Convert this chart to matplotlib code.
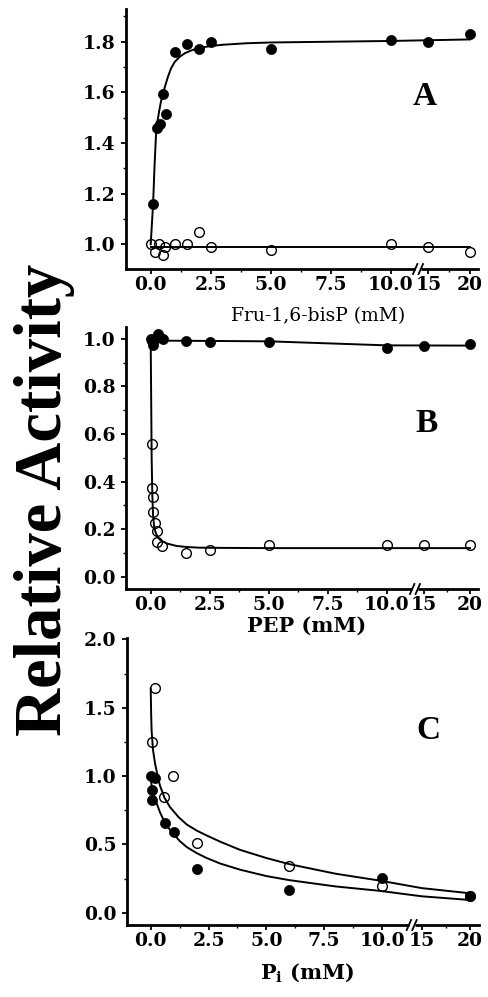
import numpy as np
import matplotlib
matplotlib.use('Agg')
import matplotlib.pyplot as plt
from matplotlib.ticker import FixedLocator

plt.rcParams['font.family'] = 'DejaVu Serif'
plt.rcParams['font.weight'] = 'bold'
plt.rcParams['mathtext.fontset'] = 'dejavuserif'

# ---- Panel A: Fru-1,6-bisP ----
fbp_x_filled = [0.1, 0.25, 0.4, 0.5, 0.65, 1.0, 1.5, 2.0, 2.5, 5, 10, 15, 20]
fbp_y_filled = [1.16, 1.46, 1.475, 1.595, 1.515, 1.76, 1.79, 1.77, 1.80, 1.77, 1.805, 1.80, 1.83]
fbp_x_open = [0, 0.2, 0.35, 0.5, 0.6, 1.0, 1.5, 2.0, 2.5, 5, 10, 15, 20]
fbp_y_open = [1.0, 0.968, 1.0, 0.958, 0.988, 1.0, 1.0, 1.05, 0.988, 0.979, 1.0, 0.989, 0.968]
fbp_fit_x_filled = [0, 0.1, 0.16, 0.22, 0.29, 0.36, 0.43, 0.5, 0.6, 0.73, 0.85, 1.0, 1.2,
                    1.43, 1.7, 2.0, 2.5, 3.0, 4.0, 5, 10, 20]
fbp_fit_y_filled = [1.0, 1.16, 1.31, 1.43, 1.49, 1.53, 1.565, 1.59, 1.625, 1.665, 1.695,
                    1.72, 1.74, 1.755, 1.766, 1.775, 1.783, 1.788, 1.794, 1.797, 1.803, 1.809]
fbp_fit_x_open = [0, 20]
fbp_fit_y_open = [0.99, 0.99]

# ---- Panel B: PEP ----
pep_x_filled = [0, 0.05, 0.1, 0.2, 0.3, 0.5, 1.5, 2.5, 5, 10, 15, 20]
pep_y_filled = [1.0, 0.99, 0.975, 1.0, 1.02, 1.0, 0.993, 0.989, 0.989, 0.961, 0.971, 0.979]
pep_x_open = [0.04, 0.07, 0.11, 0.11, 0.18, 0.25, 0.28, 0.49, 1.5, 2.5, 5, 10, 15, 20]
pep_y_open = [0.558, 0.374, 0.337, 0.273, 0.227, 0.194, 0.147, 0.13, 0.101, 0.112, 0.133, 0.133, 0.133, 0.133]
pep_fit_x_filled = [0, 0.3, 5, 10, 20]
pep_fit_y_filled = [1.0, 0.993, 0.99, 0.973, 0.972]
pep_fit_x_open = [0, 0.02, 0.04, 0.07, 0.1, 0.14, 0.2, 0.3, 0.4, 0.5, 0.7, 1.1, 1.5, 2.0, 3.0, 5, 20]
pep_fit_y_open = [0.99, 0.75, 0.5, 0.34, 0.26, 0.215, 0.188, 0.165, 0.155, 0.148, 0.139,
                  0.129, 0.125, 0.122, 0.121, 0.12, 0.12]

# ---- Panel C: Pi ----
pi_x_filled = [0, 0.05, 0.07, 0.2, 0.6, 1.0, 2.0, 6, 10, 20]
pi_y_filled = [1.0, 0.896, 0.828, 0.985, 0.657, 0.591, 0.317, 0.166, 0.251, 0.122]
pi_x_open = [0.04, 0.19, 0.58, 0.98, 2.0, 6, 10, 20]
pi_y_open = [1.248, 1.645, 0.847, 1.0, 0.507, 0.341, 0.195, 0.12]
pi_fit_x_open = [0, 0.02, 0.04, 0.1, 0.19, 0.3, 0.4, 0.6, 0.83, 1.2, 1.56, 2.0, 2.42,
                 3.0, 3.86, 5, 6, 8, 9.9, 15, 20]
pi_fit_y_open = [1.64, 1.45, 1.33, 1.19, 1.09, 1.0, 0.93, 0.84, 0.774, 0.70, 0.645, 0.60,
                 0.565, 0.52, 0.46, 0.40, 0.355, 0.285, 0.235, 0.18, 0.142]
pi_fit_x_filled = [0, 0.05, 0.1, 0.18, 0.26, 0.4, 0.54, 0.75, 0.97, 1.25, 1.56, 2.0, 2.42,
                   3.0, 3.86, 5, 6, 8, 9.9, 15, 20]
pi_fit_y_filled = [0.98, 0.92, 0.88, 0.835, 0.80, 0.735, 0.685, 0.625, 0.58, 0.525, 0.48,
                   0.435, 0.40, 0.36, 0.315, 0.268, 0.238, 0.192, 0.16, 0.12, 0.093]

xtick_vals = [0, 2.5, 5, 7.5, 10, 15, 20]
xtick_labels = ['0.0', '2.5', '5.0', '7.5', '10.0', '15', '20']
xminor_vals = [1.25, 3.75, 6.25, 8.75, 17.5]

W, H = 488, 997
fig = plt.figure(figsize=(W / 100, H / 100), dpi=100)


def broken_scale(x0, x10, x15, x20):
    # 0-10 linear, then 15/20 squeezed in after the axis break
    ppu = (x10 - x0) / 10.0
    p15 = (x15 - x0) / ppu
    p20 = (x20 - x0) / ppu
    s = (p20 - p15) / 5.0
    xs = np.array([-10, 10, 15, 20, 40])
    ps = np.array([-10, 10, p15, p20, p20 + 20 * s])
    fwd = lambda x: np.interp(x, xs, ps)
    inv = lambda p: np.interp(p, ps, xs)
    return fwd, inv, ppu


def setup(ax, px, ylim, ymaj, ymin, ylabels):
    x0, x10, x15, x20, left, right, brk = px
    fwd, inv, ppu = broken_scale(x0, x10, x15, x20)
    ax.set_xscale('function', functions=(fwd, inv))
    ax.set_xlim((left - x0) / ppu, float(inv((right - x0) / ppu)))
    ax.set_ylim(*ylim)
    for s in ['top', 'right']:
        ax.spines[s].set_visible(False)
    for s in ['left', 'bottom']:
        ax.spines[s].set_linewidth(2.0)
    ax.set_xticks(xtick_vals)
    ax.set_xticklabels(xtick_labels)
    ax.xaxis.set_minor_locator(FixedLocator(xminor_vals))
    ax.set_yticks(ymaj)
    ax.set_yticklabels(ylabels)
    ax.yaxis.set_minor_locator(FixedLocator(ymin))
    ax.tick_params(which='major', direction='out', length=3.5, width=1.3,
                   labelsize=13.5, pad=1.5)
    ax.tick_params(axis='y', which='major', pad=4)
    ax.tick_params(which='minor', direction='out', length=2, width=1.0)
    for lab in ax.get_xticklabels() + ax.get_yticklabels():
        lab.set_fontweight('bold')
    # the // mark on the x axis
    bb = ax.get_position()
    aw, ah = bb.width * W, bb.height * H
    fb = (brk - left) / (right - left)
    g = 2.8 / aw
    ax.plot([fb - g, fb + g], [0, 0], transform=ax.transAxes, color='white',
            lw=3.5, clip_on=False, zorder=5, solid_capstyle='butt')
    for c in (fb - g, fb + g):
        ax.plot([c - 2.2 / aw, c + 2.2 / aw], [-5 / ah, 5 / ah],
                transform=ax.transAxes, color='black', lw=1.3,
                clip_on=False, zorder=6)


def draw(ax, xf, yf, xo, yo, fxf, fyf, fxo, fyo):
    ax.plot(fxf, fyf, color='black', lw=1.4, zorder=2)
    ax.plot(fxo, fyo, color='black', lw=1.4, zorder=2)
    ax.plot(xo, yo, 'o', ms=7, mfc='none', mec='black', mew=1.0, zorder=3)
    ax.plot(xf, yf, 'o', ms=7.3, mfc='black', mec='black', mew=0.5, zorder=4)


axA = fig.add_axes([126 / W, (H - 269) / H, 352 / W, 259.7 / H])
axB = fig.add_axes([126 / W, (H - 589) / H, 352.3 / W, 261.7 / H])
axC = fig.add_axes([127 / W, (H - 925) / H, 352.3 / W, 287 / H])

draw(axA, fbp_x_filled, fbp_y_filled, fbp_x_open, fbp_y_open,
     fbp_fit_x_filled, fbp_fit_y_filled, fbp_fit_x_open, fbp_fit_y_open)
draw(axB, pep_x_filled, pep_y_filled, pep_x_open, pep_y_open,
     pep_fit_x_filled, pep_fit_y_filled, pep_fit_x_open, pep_fit_y_open)
draw(axC, pi_x_filled, pi_y_filled, pi_x_open, pi_y_open,
     pi_fit_x_filled, pi_fit_y_filled, pi_fit_x_open, pi_fit_y_open)

setup(axA, (150.7, 390.7, 428.3, 470, 126, 478, 418), (0.9026, 1.928),
      [1.0, 1.2, 1.4, 1.6, 1.8], [1.1, 1.3, 1.5, 1.7, 1.9],
      ['1.0', '1.2', '1.4', '1.6', '1.8'])
setup(axB, (150.7, 386.7, 424, 470, 126, 478.3, 415), (-0.052, 1.049),
      [0, 0.2, 0.4, 0.6, 0.8, 1.0], [0.1, 0.3, 0.5, 0.7, 0.9],
      ['0.0', '0.2', '0.4', '0.6', '0.8', '1.0'])
setup(axC, (150.7, 382, 421.7, 470, 127, 479.3, 411.7), (-0.09, 2.01),
      [0, 0.5, 1.0, 1.5, 2.0], [0.25, 0.75, 1.25, 1.75],
      ['0.0', '0.5', '1.0', '1.5', '2.0'])

axA.text(0.545, -0.18, 'Fru-1,6-bisP (mM)', transform=axA.transAxes,
         ha='center', va='center', fontsize=13.5, fontweight='normal')
axB.text(0.514, -0.14, 'PEP (mM)', transform=axB.transAxes,
         ha='center', va='center', fontsize=15, fontweight='bold')
axC.text(0.51, -0.165, r'$\mathbf{P_i}$ (mM)', transform=axC.transAxes,
         ha='center', va='center', fontsize=15, fontweight='bold')

for ax, letter, (lx, ly) in [(axA, 'A', (0.849, 0.666)),
                             (axB, 'B', (0.852, 0.634)),
                             (axC, 'C', (0.855, 0.676))]:
    ax.text(lx, ly, letter, transform=ax.transAxes, ha='center', va='center',
            fontsize=24, fontweight='bold', family='Liberation Serif')

fig.text(45 / W, 1 - 500 / H, 'Relative Activity', rotation=90,
         ha='center', va='center', fontsize=48, fontweight='bold',
         family='Liberation Serif')

fig.savefig('out.png', dpi=100)
